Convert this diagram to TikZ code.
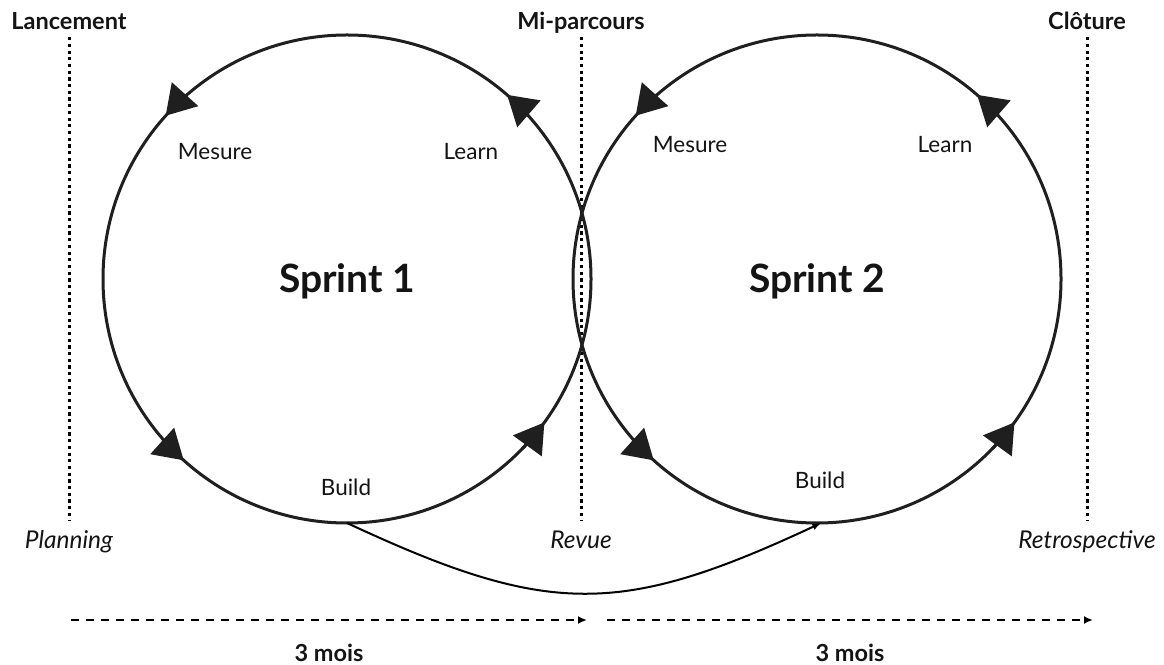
\documentclass[tikz,border=0pt]{standalone}
\usepackage{fontspec}
\setmainfont{Lato}
\usetikzlibrary{arrows.meta,positioning,calc}

\begin{document}
\begin{tikzpicture}[x=1pt,y=1pt,
    every node/.append style={inner sep=0pt, text depth=0pt, text=black!92},
    phase/.style={font=\fontsize{23.5}{27}\selectfont\bfseries, text height=16pt},
    event/.style={font=\fontsize{24.5}{28}\selectfont\itshape, text height=16pt},
    activity/.style={font=\fontsize{22.5}{26}\selectfont, text height=16pt},
    sprint/.style={circle, draw=black!88, line width=3pt, minimum size=488pt,
                   outer sep=0pt, font=\fontsize{39}{45}\selectfont\bfseries,
                   text height=28pt},
    marker/.style={draw=black!88, line width=3pt,
                   -{Triangle[length=29pt,width=35pt]}},
    milestone/.style={line width=3pt, dash pattern=on 3.2pt off 3.5pt,
                      shorten <=7pt, shorten >=13pt},
    duration/.style={line width=2.3pt, dash pattern=on 8pt off 7pt,
                     -{Latex[length=9pt,width=8pt]}},
    handoff/.style={line width=2pt, -{Latex[length=9pt,width=7pt]}}]
    \useasboundingbox (0,0) rectangle (1164,664);
    % jalons
    \node[phase] (lan) at (69,642)   {Lancement};
    \node[phase] (mid) at (581,642)  {Mi-parcours};
    \node[phase] (clo) at (1087,642) {Clôture};
    \node[event] (plan) at (69,123)   {Planning};
    \node[event] (rev)  at (581,123)  {Revue};
    \node[event] (retro) at (1087,123) {Retrospective};
    \draw[milestone] (lan) -- (plan);
    \draw[milestone] (mid) -- (rev);
    \draw[milestone] (clo) -- (retro);
    % sprints
    \node[sprint] (sp1) at (347,385) {Sprint 1};
    \node[sprint] (sp2) at (817,385) {Sprint 2};
    \foreach \s in {sp1,sp2}
      \foreach \a/\b in {131/138,42/49,221/228,316/324}
        \draw[marker] (\s.\a) arc[start angle=\a, end angle=\b, radius=244];
    \node[activity] (mes1) at (215,512) {Mesure};
    \node[activity] (lea1) at (471,512) {Learn};
    \node[activity] (bui1) at (346,176) {Build};
    \node[activity] (mes2) at (690,519) {Mesure};
    \node[activity] (lea2) at (945,519) {Learn};
    \node[activity] (bui2) at (820,183) {Build};
    \draw[handoff] (sp1.south) to[out=-25, in=-155, looseness=1.2] (sp2.-89);
    % durees
    \coordinate (m0) at (71,44);
    \coordinate (m1) at (587,44);
    \coordinate (m2) at (607,44);
    \coordinate (m3) at (1093,44);
    \draw[duration] (m0) -- node[phase, below=24pt] (dur1) {3 mois} (m1);
    \draw[duration] (m2) -- node[phase, below=24pt] (dur2) {3 mois} (m3);
\end{tikzpicture}
\end{document}
